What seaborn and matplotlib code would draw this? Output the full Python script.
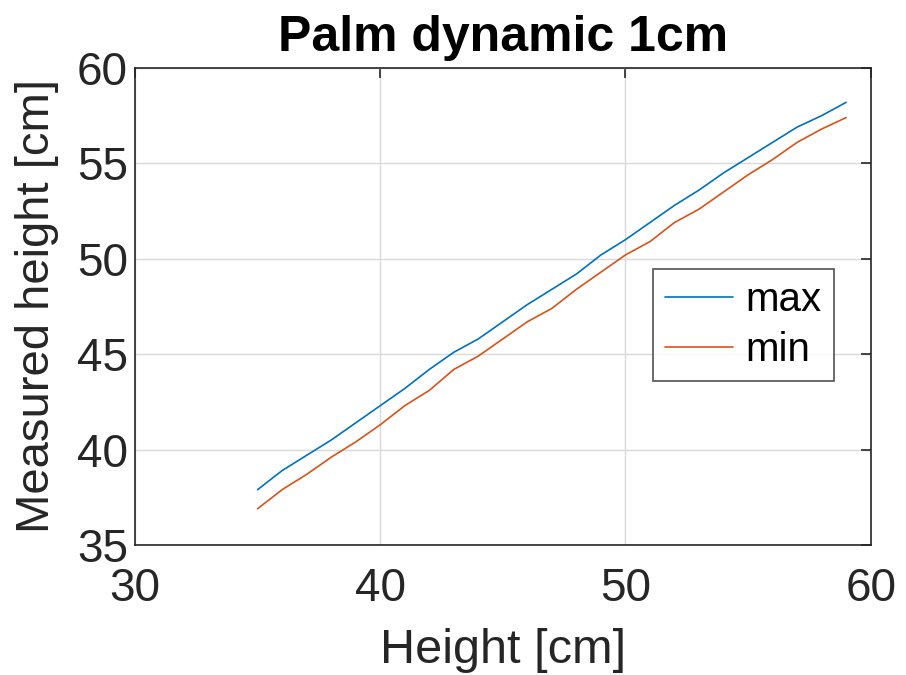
import numpy as np
import pandas as pd
import seaborn as sns
import matplotlib
matplotlib.use("Agg")
import matplotlib.pyplot as plt

heights = list(range(35, 60))
max_vals = [37.9, 38.9, 39.7, 40.5, 41.4, 42.3, 43.2, 44.2, 45.1, 45.8, 46.7, 47.6, 48.4,
            49.2, 50.2, 51.0, 51.9, 52.8, 53.6, 54.5, 55.3, 56.1, 56.9, 57.5, 58.2]
min_vals = [36.9, 37.9, 38.7, 39.6, 40.4, 41.3, 42.3, 43.1, 44.2, 44.9, 45.8, 46.7, 47.4,
            48.4, 49.3, 50.2, 50.9, 51.9, 52.6, 53.5, 54.4, 55.2, 56.1, 56.8, 57.4]
x_ticks = [30, 40, 50, 60]
y_ticks = [35, 40, 45, 50, 55, 60]

sns.set_style("white")
plt.rcParams['font.family'] = ['Liberation Sans', 'DejaVu Sans']

df = pd.DataFrame({
    "Height": heights * 2,
    "Measured": max_vals + min_vals,
    "series": ["max"] * len(heights) + ["min"] * len(heights),
})

fig = plt.figure(figsize=(9.06, 6.75), dpi=100)
ax = fig.add_axes([0.149, 0.1926, 0.812, 0.7067])
sns.lineplot(data=df, x="Height", y="Measured", hue="series",
             palette={"max": "#0072BD", "min": "#D95319"}, linewidth=1.2, ax=ax)

ax.set_xlim(30, 60)
ax.set_ylim(35, 60)
ax.set_xticks(x_ticks)
ax.set_yticks(y_ticks)
ax.grid(True, color="#d9d9d9", linewidth=1.0)
ax.set_axisbelow(True)
for s in ax.spines.values():
    s.set_color("#262626")
    s.set_linewidth(1.2)
ax.tick_params(direction="in", length=7, width=1.2, labelsize=33, colors="#262626",
               top=True, right=True)
ax.tick_params(axis="x", pad=16)
ax.tick_params(axis="y", pad=5)
ax.set_xlabel("Height [cm]", fontsize=35, color="#262626", labelpad=12)
ax.set_ylabel("Measured height [cm]", fontsize=34, color="#262626", labelpad=13)
ax.set_title("Palm dynamic 1cm", fontsize=36, fontweight="bold", pad=12, color="black")

leg = ax.legend(loc="upper left", bbox_to_anchor=(0.704, 0.579), borderaxespad=0,
                fontsize=29, frameon=True, fancybox=False, handlelength=1.7,
                handletextpad=0.3, borderpad=0.3, labelspacing=0.3)
leg.get_frame().set_edgecolor("#262626")
leg.get_frame().set_linewidth(1.2)
for t in leg.get_texts():
    t.set_color("black")

fig.savefig("out.png", dpi=100)
